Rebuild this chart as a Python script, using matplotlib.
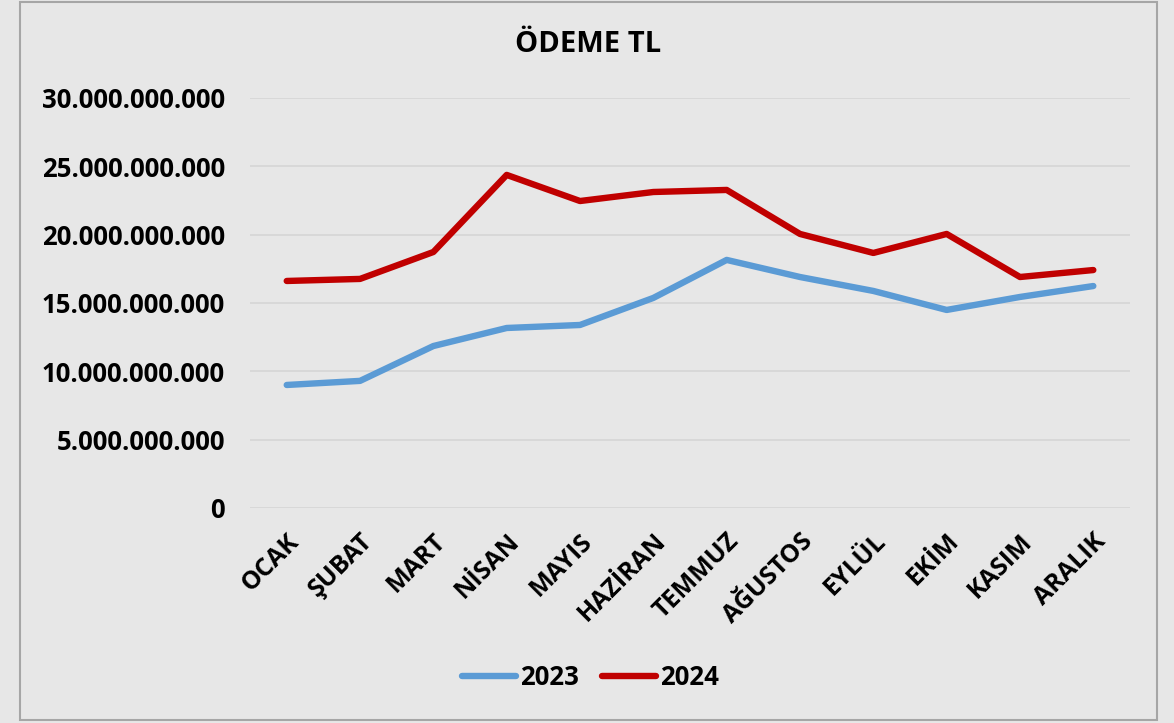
import numpy as np
import matplotlib.pyplot as plt
from matplotlib.ticker import FuncFormatter

months = ["OCAK", "ŞUBAT", "MART", "NİSAN", "MAYIS", "HAZİRAN",
          "TEMMUZ", "AĞUSTOS", "EYLÜL", "EKİM", "KASIM", "ARALIK"]
# payments, TL
odeme_2023 = [9.0e9, 9.3e9, 11.85e9, 13.17e9, 13.39e9, 15.37e9,
              18.15e9, 16.9e9, 15.88e9, 14.49e9, 15.44e9, 16.24e9]
odeme_2024 = [16.61e9, 16.76e9, 18.73e9, 24.37e9, 22.46e9, 23.12e9,
              23.27e9, 20.05e9, 18.66e9, 20.05e9, 16.9e9, 17.41e9]
y_ticks = [0, 5e9, 10e9, 15e9, 20e9, 25e9, 30e9]

plt.rcParams['font.family'] = ['Open Sans', 'DejaVu Sans']
plt.rcParams['font.weight'] = 'bold'

bg = '#e7e7e7'
fig = plt.figure(figsize=(11.74, 7.23), dpi=100, facecolor=bg)
ax = fig.add_axes([0.213, 0.2974, 0.7495, 0.5671], facecolor=bg)

x = np.arange(len(months))
ax.plot(x, odeme_2023, color='#5b9bd5', lw=4.6, solid_capstyle='round',
        solid_joinstyle='round', label='2023')
ax.plot(x, odeme_2024, color='#c00000', lw=4.6, solid_capstyle='round',
        solid_joinstyle='round', label='2024')

ax.set_xlim(-0.5, len(months) - 0.5)
ax.set_ylim(0, 30e9)
ax.set_yticks(y_ticks)
ax.yaxis.set_major_formatter(FuncFormatter(lambda v, p: f"{int(v):,}".replace(",", ".")))
ax.set_xticks(x)
ax.set_xticklabels(months, rotation=45, ha='right', rotation_mode='anchor')
ax.tick_params(length=0, labelsize=18.5)
ax.tick_params(axis='y', pad=18)
ax.tick_params(axis='x', labelsize=18, pad=15)
ax.grid(axis='y', color='#d6d6d6', lw=1.2)
ax.set_axisbelow(True)
for s in ax.spines.values():
    s.set_visible(False)

fig.text(0.501, 0.938, "ÖDEME TL", ha='center', va='center', fontsize=21, fontweight='bold')

fig.legend(loc='center', bbox_to_anchor=(0.503, 0.0636), ncol=2, frameon=False,
           fontsize=18.5, handlelength=2.1, handletextpad=0.15, columnspacing=0.9)

# outer chart frame
fig.add_artist(plt.Rectangle((20 / 1174, 3 / 723), 1137 / 1174, 718 / 723,
                             transform=fig.transFigure, fill=False,
                             edgecolor='#a6a6a6', lw=1.5))

fig.savefig("out.png", dpi=100, facecolor=bg)
